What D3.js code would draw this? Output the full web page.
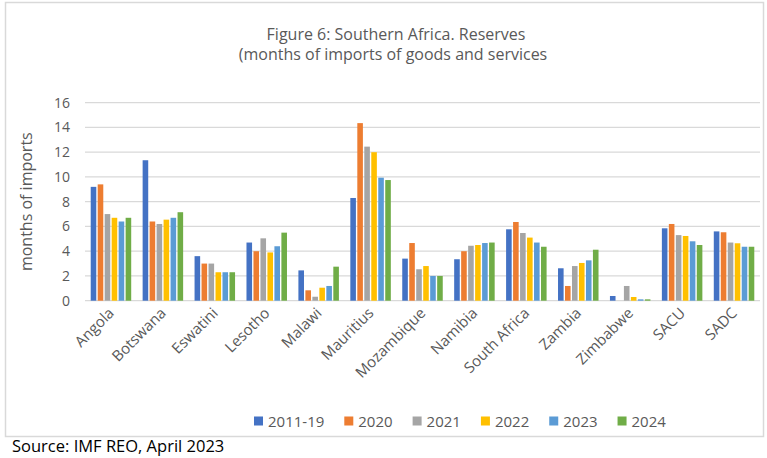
<!DOCTYPE html>
<html>
<head>
<meta charset="utf-8">
<script src="https://cdn.jsdelivr.net/npm/d3@7"></script>
<style>
  body { margin: 0; background: #fff; }
  text { font-family: "Open Sans", sans-serif; }
</style>
</head>
<body>
<svg id="chart" width="767" height="458"></svg>
<script>
// data
const countries = ["Angola", "Botswana", "Eswatini", "Lesotho", "Malawi", "Mauritius",
  "Mozambique", "Namibia", "South Africa", "Zambia", "Zimbabwe", "SACU", "SADC"];
const seriesNames = ["2011-19", "2020", "2021", "2022", "2023", "2024"];
const v2011_19 = [9.2, 11.35, 3.6, 4.7, 2.45, 8.3, 3.4, 3.35, 5.77, 2.62, 0.38, 5.85, 5.6];
const v2020    = [9.4, 6.4, 3.0, 4.0, 0.84, 14.35, 4.66, 4.0, 6.36, 1.19, 0, 6.2, 5.53];
const v2021    = [7.0, 6.2, 3.0, 5.04, 0.32, 12.45, 2.54, 4.44, 5.47, 2.8, 1.19, 5.3, 4.7];
const v2022    = [6.7, 6.55, 2.3, 3.9, 1.05, 12.0, 2.8, 4.5, 5.1, 3.05, 0.3, 5.23, 4.64];
const v2023    = [6.4, 6.7, 2.3, 4.4, 1.19, 9.94, 2.0, 4.66, 4.7, 3.26, 0.11, 4.8, 4.36];
const v2024    = [6.7, 7.15, 2.3, 5.5, 2.75, 9.75, 2.0, 4.7, 4.36, 4.12, 0.11, 4.5, 4.36];
const yTicks = [0, 2, 4, 6, 8, 10, 12, 14, 16];
const colors = ["#4472C4", "#ED7D31", "#A5A5A5", "#FFC000", "#5B9BD5", "#70AD47"];

const allSeries = [v2011_19, v2020, v2021, v2022, v2023, v2024];

const svg = d3.select("#chart");
const plot = {left: 85, right: 760, top: 102.7, bottom: 300.7};

// chart frame
svg.append("rect")
  .attr("x", 5.5).attr("y", 2.5)
  .attr("width", 758).attr("height", 434)
  .attr("fill", "none")
  .attr("stroke", "#d9d9d9")
  .attr("stroke-width", 1.5);

// title
const title = svg.append("text")
  .attr("text-anchor", "middle")
  .attr("fill", "#595959")
  .style("font-size", "16px");
title.append("tspan").attr("x", 396).attr("y", 40).text("Figure 6: Southern Africa. Reserves");
title.append("tspan").attr("x", 393).attr("y", 60).text("(months of imports of goods and services");

const x0 = d3.scaleBand()
  .domain(countries)
  .range([plot.left, plot.right])
  .paddingInner(0.22)
  .paddingOuter(0.11);
const x1 = d3.scaleBand()
  .domain(seriesNames)
  .range([0, x0.bandwidth()])
  .paddingInner(0.2);
const y = d3.scaleLinear()
  .domain([0, 16])
  .range([plot.bottom, plot.top]);

// gridlines
svg.append("g")
  .selectAll("line")
  .data(yTicks)
  .join("line")
  .attr("x1", plot.left).attr("x2", plot.right)
  .attr("y1", d => y(d)).attr("y2", d => y(d))
  .attr("stroke", "#d9d9d9")
  .attr("stroke-width", 1.3);

// y tick labels
svg.append("g")
  .selectAll("text")
  .data(yTicks)
  .join("text")
  .attr("x", 70)
  .attr("y", d => y(d))
  .attr("dy", "0.36em")
  .attr("text-anchor", "end")
  .attr("fill", "#595959")
  .style("font-size", "14px")
  .text(d => d);

// y axis title
svg.append("text")
  .attr("transform", `translate(32, ${(plot.top + plot.bottom) / 2}) rotate(-90)`)
  .attr("text-anchor", "middle")
  .attr("fill", "#595959")
  .style("font-size", "16px")
  .text("months of imports");

// bars
const groups = svg.append("g")
  .selectAll("g")
  .data(countries)
  .join("g")
  .attr("transform", d => `translate(${x0(d)},0)`);

groups.selectAll("rect")
  .data((c, i) => seriesNames.map((s, j) => ({s, j, v: allSeries[j][i]})))
  .join("rect")
  .attr("x", d => x1(d.s))
  .attr("width", x1.bandwidth())
  .attr("y", d => y(d.v))
  .attr("height", d => y(0) - y(d.v))
  .attr("fill", d => colors[d.j]);

// x labels
svg.append("g")
  .selectAll("text")
  .data(countries)
  .join("text")
  .attr("transform", d => `translate(${x0(d) + x0.bandwidth() / 2 + 4}, 314) rotate(-45)`)
  .attr("text-anchor", "end")
  .attr("fill", "#595959")
  .style("font-size", "15px")
  .text(d => d);

// legend
const legend = svg.append("g");
let lx = 254;
seriesNames.forEach((s, j) => {
  legend.append("rect")
    .attr("x", lx).attr("y", 416.5)
    .attr("width", 9).attr("height", 9)
    .attr("fill", colors[j]);
  const t = legend.append("text")
    .attr("x", lx + 14).attr("y", 426.5)
    .attr("fill", "#595959")
    .style("font-size", "15px")
    .text(s);
  lx += 14 + t.node().getComputedTextLength() + 20;
});

// source note
svg.append("text")
  .attr("x", 12).attr("y", 452)
  .attr("fill", "#000")
  .style("font-size", "16.5px")
  .text("Source: IMF REO, April 2023");
</script>
</body>
</html>
